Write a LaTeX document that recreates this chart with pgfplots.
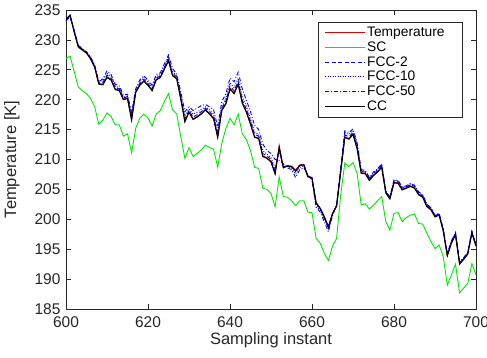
\documentclass[border=0pt]{standalone}
\usepackage{pgfplots}
\usepackage{pgfplotstable}
\pgfplotsset{compat=1.18}
\usepackage{fontspec}
\setmainfont{Liberation Sans}
\definecolor{axgray}{RGB}{38,38,38}
\definecolor{tred}{RGB}{225,0,0}
\definecolor{scgreen}{RGB}{0,235,0}
\definecolor{fblue}{RGB}{0,0,235}
\pgfplotstableread{
x T SC F2 F10 F50 CC
600 233.4 226.9 233.3 233.2 233.2 233.5
601 234.2 227.3 234.0 233.9 233.9 234.1
602 231.4 224.7 231.5 231.6 231.6 231.3
603 228.9 222.1 229.0 229.1 229.1 228.8
604 228.4 221.5 228.4 228.5 228.5 228.3
605 227.9 221.0 228.0 228.0 228.0 227.8
606 226.9 220.2 227.0 227.1 227.1 226.8
607 225.5 218.8 225.6 225.7 225.8 225.4
608 222.7 215.9 222.8 222.9 223.0 222.6
609 222.6 216.6 222.9 223.2 223.5 222.5
610 223.8 217.8 224.1 224.4 224.8 223.7
611 223.4 217.2 223.6 223.9 224.2 223.3
612 221.8 215.8 222.0 222.3 222.6 221.7
613 221.6 215.8 221.8 222.0 222.3 221.5
614 220.1 213.9 220.3 220.5 220.8 220.0
615 220.3 214.3 220.5 220.6 220.9 220.2
616 216.7 211.1 217.0 217.3 217.8 216.6
617 221.3 215.2 221.4 221.6 221.8 221.2
618 222.5 216.9 222.7 223.0 223.3 222.4
619 223.2 217.6 223.4 223.7 224.0 223.1
620 222.5 216.9 222.7 223.0 223.3 222.4
621 221.6 215.6 221.8 222.1 222.4 221.5
622 223.4 217.6 223.6 223.9 224.2 223.3
623 223.8 218.2 224.0 224.2 224.5 223.7
624 225.2 219.7 225.4 225.7 226.0 225.1
625 226.6 221.0 226.8 227.1 227.5 226.5
626 224.1 218.3 224.4 224.7 225.2 224.0
627 223.6 217.6 223.8 224.0 224.3 223.5
628 220.2 213.8 220.5 220.8 221.3 220.1
629 216.4 210.2 216.8 217.3 218.0 216.3
630 218.0 212.0 218.2 218.4 218.8 217.9
631 216.8 210.5 217.1 217.6 218.2 216.7
632 217.2 211.0 217.5 217.9 218.6 217.1
633 217.7 211.6 218.0 218.4 219.0 217.6
634 218.4 212.4 218.6 218.8 219.2 218.3
635 217.7 212.0 218.0 218.3 218.8 217.6
636 216.9 211.7 217.2 217.6 218.3 216.8
637 213.8 208.7 214.2 214.7 215.5 213.7
638 218.3 212.7 218.6 219.0 219.7 218.2
639 219.4 215.2 219.8 220.2 221.0 219.3
640 221.9 216.9 222.3 222.8 223.6 221.8
641 221.1 215.8 221.5 222.0 223.0 221.0
642 222.7 217.6 223.1 223.6 224.6 222.6
643 219.5 214.3 219.9 220.5 221.8 219.4
644 218.0 213.3 218.4 218.9 219.9 217.9
645 216.0 211.5 216.4 216.9 218.0 215.9
646 213.8 208.7 214.2 214.6 215.7 213.7
647 213.6 208.5 213.9 214.2 215.0 213.5
648 210.6 205.2 211.0 211.5 212.6 210.5
649 210.3 205.0 210.6 210.9 211.5 210.2
650 209.7 204.3 210.0 210.3 211.0 209.6
651 207.7 202.1 208.1 208.6 210.0 207.6
652 212.3 207.1 211.8 211.2 209.8 212.0
653 208.7 203.8 208.8 208.9 209.3 208.6
654 209.0 203.7 208.9 208.8 208.6 208.9
655 208.9 203.1 208.8 208.6 208.3 208.8
656 208.2 202.3 208.0 207.6 207.0 208.1
657 209.1 203.1 209.0 208.7 208.3 209.0
658 209.2 203.1 209.1 208.9 208.6 209.1
659 207.2 201.2 207.2 207.3 207.5 207.1
660 207.0 201.1 206.9 206.7 206.5 206.9
661 202.8 196.8 202.7 202.4 202.0 202.7
662 201.9 196.0 201.8 201.5 201.2 201.8
663 200.5 194.3 200.3 200.0 199.6 200.4
664 198.8 193.1 198.6 198.3 197.9 198.7
665 201.0 195.5 200.9 200.8 200.6 200.9
666 202.3 196.8 202.3 202.4 202.4 202.2
667 208.0 204.1 208.2 208.4 208.6 207.9
668 213.8 209.4 214.1 214.5 214.8 213.7
669 213.5 208.8 213.8 214.2 214.5 213.4
670 214.3 209.5 214.5 214.8 215.1 214.2
671 212.0 207.7 212.3 212.6 212.8 211.8
672 207.8 202.4 208.0 208.2 208.3 207.7
673 207.7 202.6 207.9 208.1 208.2 207.6
674 206.6 201.7 206.7 206.9 207.0 206.5
675 207.4 202.4 207.6 207.8 207.9 207.3
676 208.0 203.1 208.2 208.4 208.5 207.9
677 208.8 203.8 209.0 209.1 209.2 208.7
678 204.5 199.6 204.6 204.7 204.8 204.4
679 203.5 198.2 203.6 203.7 203.7 203.4
680 206.2 201.0 206.4 206.5 206.6 206.1
681 206.1 201.1 206.3 206.4 206.5 206.0
682 205.0 199.6 205.2 205.3 205.4 204.9
683 205.3 200.3 205.4 205.5 205.6 205.2
684 205.6 200.7 205.8 205.9 206.0 205.5
685 205.3 200.9 205.5 205.6 205.7 205.2
686 204.2 199.3 204.4 204.5 204.6 204.1
687 203.8 199.2 203.9 204.0 204.1 203.7
688 202.2 197.7 202.4 202.5 202.6 202.1
689 201.7 196.3 201.8 201.9 201.9 201.6
690 200.5 195.1 200.6 200.6 200.7 200.4
691 200.8 195.7 200.9 200.9 201.0 200.7
692 198.2 193.8 198.3 198.4 198.4 198.1
693 194.0 189.0 194.1 194.2 194.3 193.9
694 196.1 190.7 196.3 196.3 196.4 196.0
695 197.5 192.5 197.6 197.7 197.8 197.4
696 192.6 187.7 192.7 192.8 192.9 192.5
697 193.4 188.5 193.5 193.5 193.6 193.3
698 194.3 189.3 194.4 194.4 194.5 194.2
699 197.8 192.6 197.9 197.9 198.0 197.7
700 195.6 190.7 195.7 195.7 195.7 195.5
}\datatable
\begin{document}
\begin{tikzpicture}
\begin{axis}[
  at={(0pt,0pt)}, anchor=south west,
  scale only axis, width=410pt, height=299pt,
  xmin=600, xmax=700, ymin=185, ymax=235,
  xtick={600,620,...,700}, ytick={185,190,...,235},
  tick align=inside, major tick length=5pt,
  axis line style={axgray, line width=0.6pt},
  every tick/.style={axgray, line width=0.6pt},
  /pgf/number format/assume math mode=true,
  /pgf/number format/1000 sep={},
  tick label style={font=\fontsize{15.5}{16}\selectfont, text=axgray},
  xticklabel style={yshift=-4pt},
  yticklabel style={xshift=-2pt},
  xlabel={Sampling instant}, ylabel={Temperature [K]},
  label style={font=\fontsize{16.5}{18}\selectfont, text=axgray},
  xlabel style={at={(axis description cs:0.5,-0.103)}, anchor=center},
  ylabel style={at={(axis description cs:-0.132,0.5)}, anchor=center},
  legend cell align=left,
  legend image code/.code={\draw[#1] (0pt,0pt) -- (40pt,0pt);},
  legend style={at={(rel axis cs:0.968,0.960)}, anchor=north east,
    draw=axgray, line width=0.6pt, fill=white,
    font=\fontsize{13.8}{15}\selectfont, inner xsep=6.5pt, inner ysep=3.2pt,
    nodes={inner xsep=1.5pt, inner ysep=1.8pt}},
]
\addplot[tred, line width=0.9pt] table[x=x,y=T] {\datatable};
\addlegendentry{Temperature\rule{10pt}{0pt}}
\addplot[scgreen, line width=0.9pt] table[x=x,y=SC] {\datatable};
\addlegendentry{SC}
\addplot[fblue, line width=0.9pt, dash pattern=on 4pt off 2.5pt] table[x=x,y=F2] {\datatable};
\addlegendentry{FCC-2}
\addplot[fblue, line width=0.9pt, dash pattern=on 0.9pt off 1.6pt] table[x=x,y=F10] {\datatable};
\addlegendentry{FCC-10}
\addplot[fblue, line width=0.9pt, dash pattern=on 4pt off 2pt on 0.9pt off 2pt] table[x=x,y=F50] {\datatable};
\addlegendentry{FCC-50}
\addplot[black, line width=1.1pt] table[x=x,y=CC] {\datatable};
\addlegendentry{CC}
\end{axis}
\pgfresetboundingbox
\useasboundingbox (-66pt,-49pt) rectangle (421pt,309pt);
\end{tikzpicture}
\end{document}
